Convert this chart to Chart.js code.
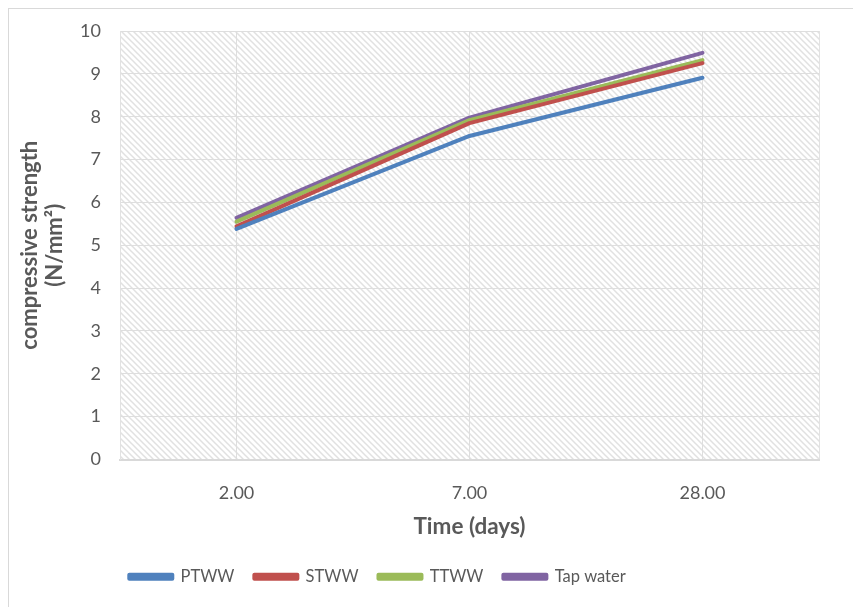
<!DOCTYPE html>
<html><head><meta charset="utf-8">
<script src="https://cdn.jsdelivr.net/npm/chart.js@4"></script>
<style>
html,body{margin:0;padding:0;background:#fff;}
#wrap{position:relative;width:853px;height:607px;overflow:hidden;}
#frame{position:absolute;left:8px;top:8px;width:900px;height:700px;border:1.5px solid #d9d9d9;box-sizing:border-box;}
canvas{position:absolute;left:0;top:0;}
</style></head><body>
<div id="wrap"><div id="frame"></div><canvas id="c" width="853" height="607"></canvas></div>
<script>
const categories = ['2.00', '7.00', '28.00'];
const ptww = [5.38, 7.55, 8.91];
const stww = [5.44, 7.85, 9.25];
const ttww = [5.55, 7.92, 9.32];
const tapWater = [5.64, 7.98, 9.49];
const yMin = 0, yMax = 10, yStep = 1;
const seriesNames = ['PTWW', 'STWW', 'TTWW', 'Tap water'];
const xTitle = 'Time (days)';
const yTitle = ['compressive strength', '(N/mm²)'];

const colors = ['#4F81BD', '#C0504D', '#9BBB59', '#8064A2'];
const FONT = 'Lato';
const TXT = '#595959';

const canvas = document.getElementById('c');
const ctx = canvas.getContext('2d');

function makePattern() {
  const s = 6;
  const c = document.createElement('canvas');
  c.width = s; c.height = s;
  const x = c.getContext('2d');
  x.fillStyle = '#ffffff'; x.fillRect(0, 0, s, s);
  x.strokeStyle = '#e1e1e1'; x.lineWidth = 1.5;
  x.beginPath();
  x.moveTo(-2, -2); x.lineTo(s + 2, s + 2);
  x.moveTo(-2, s - 2); x.lineTo(2, s + 2);
  x.moveTo(s - 2, -2); x.lineTo(s + 2, 2);
  x.stroke();
  return ctx.createPattern(c, 'repeat');
}
const pattern = makePattern();

const bgPlugin = {
  id: 'hatch',
  beforeDraw(chart) {
    const a = chart.chartArea, g = chart.ctx;
    g.save();
    g.fillStyle = pattern;
    g.fillRect(a.left, a.top, a.right - a.left, a.bottom - a.top);
    g.strokeStyle = '#e2e2e2'; g.lineWidth = 1;
    g.beginPath();
    g.moveTo(a.right + 0.5, a.top); g.lineTo(a.right + 0.5, a.bottom);
    g.moveTo(a.left, a.top + 0.5); g.lineTo(a.right, a.top + 0.5);
    g.stroke();
    g.restore();
  }
};

const legendShift = {
  id: 'legendShift',
  afterLayout(chart) {
    const L = chart.legend;
    if (!L) return;
    const dx = -37, dy = 0;
    L.left += dx; L.right += dx; L.top += dy; L.bottom += dy;
  }
};

const datasets = [ptww, stww, ttww, tapWater].map((d, i) => ({
  label: seriesNames[i],
  data: d,
  borderColor: colors[i],
  backgroundColor: colors[i],
  borderWidth: 4,
  pointRadius: 0,
  tension: 0,
  borderCapStyle: 'round',
  borderJoinStyle: 'round',
  fill: false
}));

new Chart(ctx, {
  type: 'line',
  data: { labels: categories, datasets },
  plugins: [bgPlugin, legendShift],
  options: {
    responsive: false,
    animation: false,
    layout: { padding: { left: 10, right: 34, top: 31, bottom: 12 } },
    plugins: {
      tooltip: { enabled: false },
      legend: {
        position: 'bottom',
        labels: {
          boxWidth: 43, boxHeight: 4,
          padding: 20,
          color: TXT,
          font: { family: FONT, size: 16.5 }
        }
      }
    },
    scales: {
      x: {
        offset: true,
        grid: { color: '#dedede', lineWidth: 1, drawTicks: false, offset: false },
        border: { color: '#d9d9d9', width: 2 },
        ticks: { color: TXT, padding: 23, font: { family: FONT, size: 18 } },
        title: { display: true, text: xTitle, color: TXT, font: { family: FONT, size: 22.5, weight: 'bold' }, padding: { top: 4, bottom: 8 } },
        afterFit(s) { s.height = 89; }
      },
      y: {
        min: yMin, max: yMax,
        grid: { color: '#dedede', lineWidth: 1, drawTicks: false },
        border: { color: '#e2e2e2', width: 1 },
        ticks: { stepSize: yStep, color: TXT, padding: 19, font: { family: FONT, size: 18 } },
        title: { display: true, text: yTitle, color: TXT, font: { family: FONT, size: 22, weight: 'bold', lineHeight: 1.15 }, padding: { top: 7, bottom: 0 } },
        afterFit(s) { s.width = 110; }
      }
    }
  }
});
</script>
</body></html>
